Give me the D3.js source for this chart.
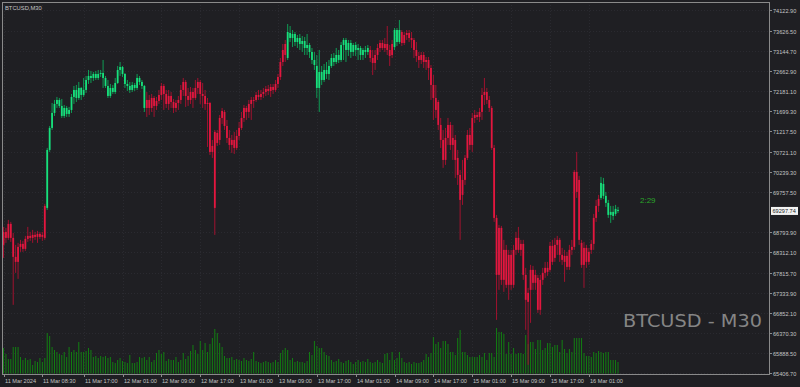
<!DOCTYPE html>
<html><head><meta charset="utf-8">
<script src="https://cdn.jsdelivr.net/npm/d3@7"></script>
<style>html,body{margin:0;padding:0;background:#1f1f23;overflow:hidden}svg{display:block}</style>
</head><body><svg id="chart" width="800" height="387"></svg>
<script>
const openP = [
68483,68795,68651,68987,68651,68195,68075,68435,68507,68387,
68627,68699,68651,68723,68675,68747,68675,68651,69371,70763,
71291,71651,71867,71963,71819,71579,71771,71627,71723,72035,
72203,72011,72251,72083,72203,72443,72539,72491,72587,72491,
72587,72611,72491,72299,72059,72251,72155,72371,72683,72755,
72587,72347,72299,72203,72323,72251,72491,72395,72299,71771,
71963,71771,72011,71819,71939,72083,72299,72107,71867,72059,
71915,71771,71891,71963,72203,72395,72059,71963,72155,72011,
72251,72395,72107,72059,71867,71891,70715,71195,70931,71003,
71531,71675,71339,71051,70883,71003,70811,71099,71291,71531,
71771,71675,71867,71963,71963,72083,72035,72107,72155,72227,
72179,72275,72203,72347,72515,72875,73043,72971,73571,73451,
73547,73355,73451,73307,73379,73211,73283,73115,72923,72779,
72251,72635,72443,72683,72587,72779,72971,72875,73043,72923,
73283,73403,73163,73331,73115,73283,73163,73211,73043,73163,
73115,73163,72971,72851,73043,73211,73331,73211,73307,73163,
73043,73235,73643,73355,73595,73331,73523,73571,73451,73403,
73163,73019,72923,73043,72875,72923,72731,72323,72011,71915,
71363,71003,70523,71051,71363,70883,71003,70571,70163,69683,
70043,70571,71123,70883,71531,71603,71555,71675,72083,72155,
71963,71771,70811,69131,67763,68891,67643,68363,67523,68243,
67523,68363,68651,68363,68507,67763,67331,67403,67883,67571,
67691,66923,67643,67811,67931,67883,68459,68171,68483,68603,
68243,68075,68219,67955,68363,68435,70235,70043,68531,68003,
68411,68075,68363,68507,69131,69419,69611,69947,69659,69491,
69203,69275,69227,69323];
const highP = [
68915,68891,69083,69035,68771,68483,68531,68603,68579,68699,
68915,68795,68843,68795,68819,68795,68795,69467,70811,71339,
71891,71963,72035,72011,71987,71843,71819,71795,72107,72299,
72323,72395,72275,72491,72539,72683,72659,72635,72659,72683,
72683,72923,72539,72443,72347,72323,72491,72779,72875,72779,
72611,72443,72395,72395,72371,72587,72539,72443,72323,72155,
72083,72107,72059,72035,72203,72371,72347,72203,72203,72155,
71987,71963,72059,72323,72491,72443,72251,72275,72251,72443,
72491,72443,72371,72203,72011,71915,71003,71243,71243,71603,
71771,71723,71483,71243,71123,71195,71243,71435,71675,71843,
71819,71963,72035,72035,72155,72203,72203,72251,72299,72323,
72347,72347,72443,72587,72971,73307,73403,73787,73739,73643,
73595,73523,73547,73499,73475,73547,73331,73211,73115,73043,
73163,72779,72827,72875,72923,73067,73091,73211,73163,73355,
73451,73451,73403,73403,73331,73355,73307,73259,73211,73259,
73283,73259,73163,73163,73307,73403,73403,73451,73739,73283,
73403,73691,73691,73883,73643,73595,73643,73643,73595,73451,
73355,73115,73115,73115,72995,72995,72803,72563,72323,71963,
71531,71243,71291,71531,71435,71363,71123,70763,70283,70523,
70643,71243,71291,71651,71723,71675,71771,72251,72491,72251,
72059,71819,70883,69203,68963,68939,68603,68483,68363,68363,
68483,68795,68915,68603,68603,67931,67451,68003,67979,67883,
67763,67763,67931,68075,68075,68555,68603,68651,68699,68651,
68411,68363,68315,68483,68603,70283,70715,70139,68603,68555,
68483,68411,68603,69227,69563,69683,70115,70091,69755,69563,
69419,69419,69443,69395];
const lowP = [
68171,68531,68603,68555,67043,67811,67667,68315,68315,68339,
68555,68579,68531,68603,68531,68627,68579,68603,69323,70715,
71243,71579,71771,71771,71531,71531,71555,71555,71651,71867,
71915,71963,71963,72035,72131,72347,72371,72419,72443,72443,
72515,72251,72251,72011,72011,72107,72107,72347,72539,72515,
72251,72179,72131,72155,72179,72203,72323,72227,71675,71555,
71603,71675,71555,71723,71867,71963,71723,71771,71723,71771,
71651,71675,71723,71867,72059,71795,71819,71867,71771,71963,
72107,71867,71771,71723,70835,70643,70571,68723,70859,70883,
71387,71243,70931,70763,70691,70667,70763,71003,71243,71435,
71483,71531,71483,71771,71915,71963,71963,72011,72059,72083,
72035,72107,72155,72251,72443,72779,72875,72923,73355,73235,
73259,73211,73163,73115,73043,73043,72971,72827,72683,72011,
71675,72323,72395,72467,72443,72731,72779,72827,72851,72875,
72923,72875,73019,72971,73019,73019,72923,72923,72923,72971,
73043,72875,72563,72683,72923,73115,73163,73115,73043,72779,
72971,73163,73259,73307,73259,73283,73403,73355,73211,72971,
72875,72731,72827,72731,72683,72443,71963,71483,71531,71243,
70811,70331,70403,70883,70763,70523,70091,69923,68603,69443,
69923,70523,70763,70715,71411,71483,71435,71483,71843,71867,
71675,70763,69035,66683,67403,67523,67355,67451,67163,67403,
67451,68243,68291,68219,67643,66443,65603,66611,67403,67403,
66851,66803,67523,67691,67739,67835,68003,68075,68243,68075,
68003,67595,67883,67883,68243,68363,69611,68483,67931,67451,
67931,68003,68267,68363,69035,69275,69563,69587,69395,69131,
69011,69083,69179,69251];
const closeP = [
68795,68651,68987,68651,68195,68075,68435,68507,68387,68627,
68699,68651,68723,68675,68747,68675,68723,69419,70763,71291,
71651,71867,71963,71819,71579,71771,71627,71723,72035,72203,
72011,72251,72083,72203,72443,72539,72491,72587,72491,72587,
72611,72491,72299,72059,72251,72155,72371,72683,72755,72587,
72347,72299,72203,72323,72251,72491,72395,72299,71771,71963,
71771,72011,71819,71939,72083,72299,72107,71867,72059,71915,
71771,71891,71963,72203,72395,72059,71963,72155,72011,72251,
72395,72107,72059,71867,71891,70715,70859,69371,71171,71531,
71699,71339,71051,70883,71003,70811,71099,71291,71531,71771,
71675,71867,71963,71939,72083,72035,72107,72155,72227,72179,
72275,72203,72347,72515,72875,73163,73307,73595,73451,73547,
73355,73451,73307,73379,73211,73283,73115,72923,72803,72251,
72635,72443,72683,72587,72779,72971,72875,73043,72923,73283,
73403,73163,73331,73115,73283,73163,73211,73043,73163,73115,
73211,72971,72851,73043,73211,73331,73211,73307,73163,73019,
73307,73643,73355,73643,73331,73523,73571,73451,73403,73163,
73019,72923,73043,72875,72923,72731,72323,72011,71723,71363,
71003,70523,71051,71363,70883,71051,70523,70163,69563,70043,
70571,71123,70883,71531,71603,71555,71675,72083,72155,71963,
71771,70811,69131,67763,68891,67643,68363,67523,68243,67523,
68363,68651,68363,68507,67763,67163,67115,67883,67571,67763,
66923,67643,67811,67931,67835,68459,68075,68483,68603,68243,
68123,68219,67955,68363,68435,70235,69755,68603,68003,68411,
68075,68315,68507,69131,69419,69587,69971,69659,69491,69203,
69275,69179,69347,69297.74];
const volumes = [
260,200,150,150,270,270,270,170,140,160,
140,150,90,130,120,160,120,160,410,380,
270,240,220,200,190,220,170,270,220,240,
220,320,220,220,230,260,240,170,180,160,
180,170,180,160,170,120,110,140,160,130,
120,110,190,110,110,120,170,160,170,140,
170,120,140,210,240,200,220,130,150,140,
140,170,120,140,210,150,180,230,290,240,
200,330,240,310,220,300,360,450,410,310,
270,180,160,160,170,140,150,140,130,160,
140,130,150,220,130,120,110,120,130,120,
110,120,140,120,210,240,260,240,140,160,
120,130,120,120,110,130,220,190,330,280,
260,260,220,190,180,140,120,130,150,120,
110,130,140,120,100,120,140,120,130,120,
150,120,110,120,140,120,110,200,210,140,
220,140,160,220,160,120,110,120,100,120,
110,110,120,140,200,170,210,370,300,320,
260,330,330,300,220,220,190,360,440,220,
220,190,170,170,170,170,190,170,210,140,
210,210,170,460,420,420,400,200,320,200,
260,200,210,210,200,390,300,320,320,250,
340,340,240,260,310,310,270,290,290,220,
340,250,210,250,220,360,360,360,360,210,
180,180,170,220,210,230,220,210,220,220,
140,140,140,120];
// trend colouring runs: red, green, red, green ... (number of bars in each run)
const trendRuns = [18, 41, 58, 34, 10, 3, 82, 8];
const priceTickLabels = ["74122.90","73626.50","73144.70","72662.90","72181.10","71699.30","71217.50","70721.10","70239.30","69757.50","68793.90","68312.10","67815.70","67333.90","66852.10","66370.30","65888.50","65406.70"];
const timeTickIndex = [0,16,33,49,65,81,97,113,129,145,161,177,193,209,225,241];
const timeTickLabels = ["11 Mar 2024","11 Mar 08:30","11 Mar 17:00","12 Mar 01:00","12 Mar 09:00","12 Mar 17:00","13 Mar 01:00","13 Mar 09:00","13 Mar 17:00","14 Mar 01:00","14 Mar 09:00","14 Mar 17:00","15 Mar 01:00","15 Mar 09:00","15 Mar 17:00","16 Mar 01:00"];
const lastPrice = 69297.74;
const symbolTitle = "BTCUSD,M30";
const watermark = "BTCUSD - M30";
const timerText = "2:29";

const W = 800, H = 387;
const L = 2, R = 769, T = 2, B = 374;
const bg = "#1f1f23", axisCol = "#8a8a8a", txtCol = "#c4c4c4";
const upBody = "#17e07c", upWick = "#0f9c55", dnBody = "#e2173f", dnWick = "#a0122f";
const volCol = "#127f12";
const font = "'Liberation Sans', Arial, sans-serif";

const trend = [];
trendRuns.forEach((n, k) => { for (let j = 0; j < n; j++) trend.push(k % 2 === 1); });

const candles = openP.map((o, i) => ({i, o, h: highP[i], l: lowP[i], c: closeP[i], v: volumes[i], up: trend[i]}));

const svg = d3.select("#chart");
svg.append("rect").attr("width", W).attr("height", H).attr("fill", bg);

const x = d3.scaleLinear().domain([0, candles.length - 1]).range([3.5, 618]);
const y = d3.scaleLinear().domain([65406.7, 74122.9]).range([373, 10]);
const yv = d3.scaleLinear().domain([0, 500]).range([B, B - 50]);

svg.append("defs").append("clipPath").attr("id", "plot")
  .append("rect").attr("x", L + 0.5).attr("y", T + 0.5).attr("width", R - L - 1).attr("height", B - T - 1);

// grid
const grid = svg.append("g").attr("stroke", "#2a2a30").attr("stroke-width", 1).attr("stroke-dasharray", "1,2");
priceTickLabels.forEach(t => {
  const yy = Math.round(y(+t)) + 0.5;
  grid.append("line").attr("x1", L).attr("x2", R).attr("y1", yy).attr("y2", yy);
});
timeTickIndex.forEach(ti => {
  const xx = Math.round(x(ti)) + 0.5;
  grid.append("line").attr("x1", xx).attr("x2", xx).attr("y1", T).attr("y2", B);
});

const plot = svg.append("g").attr("clip-path", "url(#plot)");

// volumes
plot.append("g").selectAll("rect").data(candles).join("rect")
  .attr("x", d => x(d.i) - 0.5).attr("width", 1)
  .attr("y", d => yv(d.v)).attr("height", d => B - yv(d.v))
  .attr("fill", volCol);

// wicks
plot.append("g").selectAll("line").data(candles).join("line")
  .attr("x1", d => x(d.i)).attr("x2", d => x(d.i))
  .attr("y1", d => y(d.h)).attr("y2", d => y(d.l))
  .attr("stroke", d => d.up ? upWick : dnWick).attr("stroke-width", 1);

// bodies
plot.append("g").selectAll("rect").data(candles).join("rect")
  .attr("x", d => x(d.i) - 0.9).attr("width", 1.8)
  .attr("y", d => y(Math.max(d.o, d.c)))
  .attr("height", d => Math.max(1, Math.abs(y(d.o) - y(d.c))))
  .attr("fill", d => d.up ? upBody : dnBody);

// frame
const frame = svg.append("g").attr("stroke", axisCol).attr("stroke-width", 1).attr("fill", "none");
frame.append("rect").attr("x", L + 0.5).attr("y", T + 0.5).attr("width", R - L).attr("height", B - T);

// right axis
const ra = svg.append("g");
priceTickLabels.forEach(t => {
  const yy = Math.round(y(+t)) + 0.5;
  ra.append("line").attr("x1", R).attr("x2", R + 3).attr("y1", yy).attr("y2", yy).attr("stroke", axisCol);
  ra.append("text").attr("x", R + 4).attr("y", yy + 2).text(t)
    .attr("fill", txtCol).attr("font-size", 5.6).attr("font-family", font);
});
const ly = y(lastPrice);
ra.append("rect").attr("x", R + 2).attr("y", ly - 4).attr("width", 27).attr("height", 8).attr("fill", "#f2f2f2");
ra.append("text").attr("x", R + 3.5).attr("y", ly + 2).text(lastPrice.toFixed(2))
  .attr("fill", "#222").attr("font-size", 5.6).attr("font-family", font);

// bottom axis
const ba = svg.append("g");
timeTickIndex.forEach((ti, k) => {
  const xx = Math.round(x(ti)) + 0.5;
  ba.append("line").attr("x1", xx).attr("x2", xx).attr("y1", B).attr("y2", B + 3).attr("stroke", axisCol);
  ba.append("text").attr("x", xx + 0.5).attr("y", 383).text(timeTickLabels[k])
    .attr("fill", txtCol).attr("font-size", 5.6).attr("font-family", font);
});

// texts
svg.append("text").attr("x", 5).attr("y", 9.5).text(symbolTitle)
  .attr("fill", txtCol).attr("font-size", 5.8).attr("font-family", font);
svg.append("text").attr("x", 640).attr("y", 203).text(timerText)
  .attr("fill", "#2aa52a").attr("font-size", 8).attr("font-family", font);
svg.append("text").attr("x", 623).attr("y", 327).text(watermark)
  .attr("fill", "#858585").attr("font-size", 18).attr("font-family", "'DejaVu Sans', sans-serif")
  .attr("textLength", 139).attr("lengthAdjust", "spacingAndGlyphs");
</script></body></html>
